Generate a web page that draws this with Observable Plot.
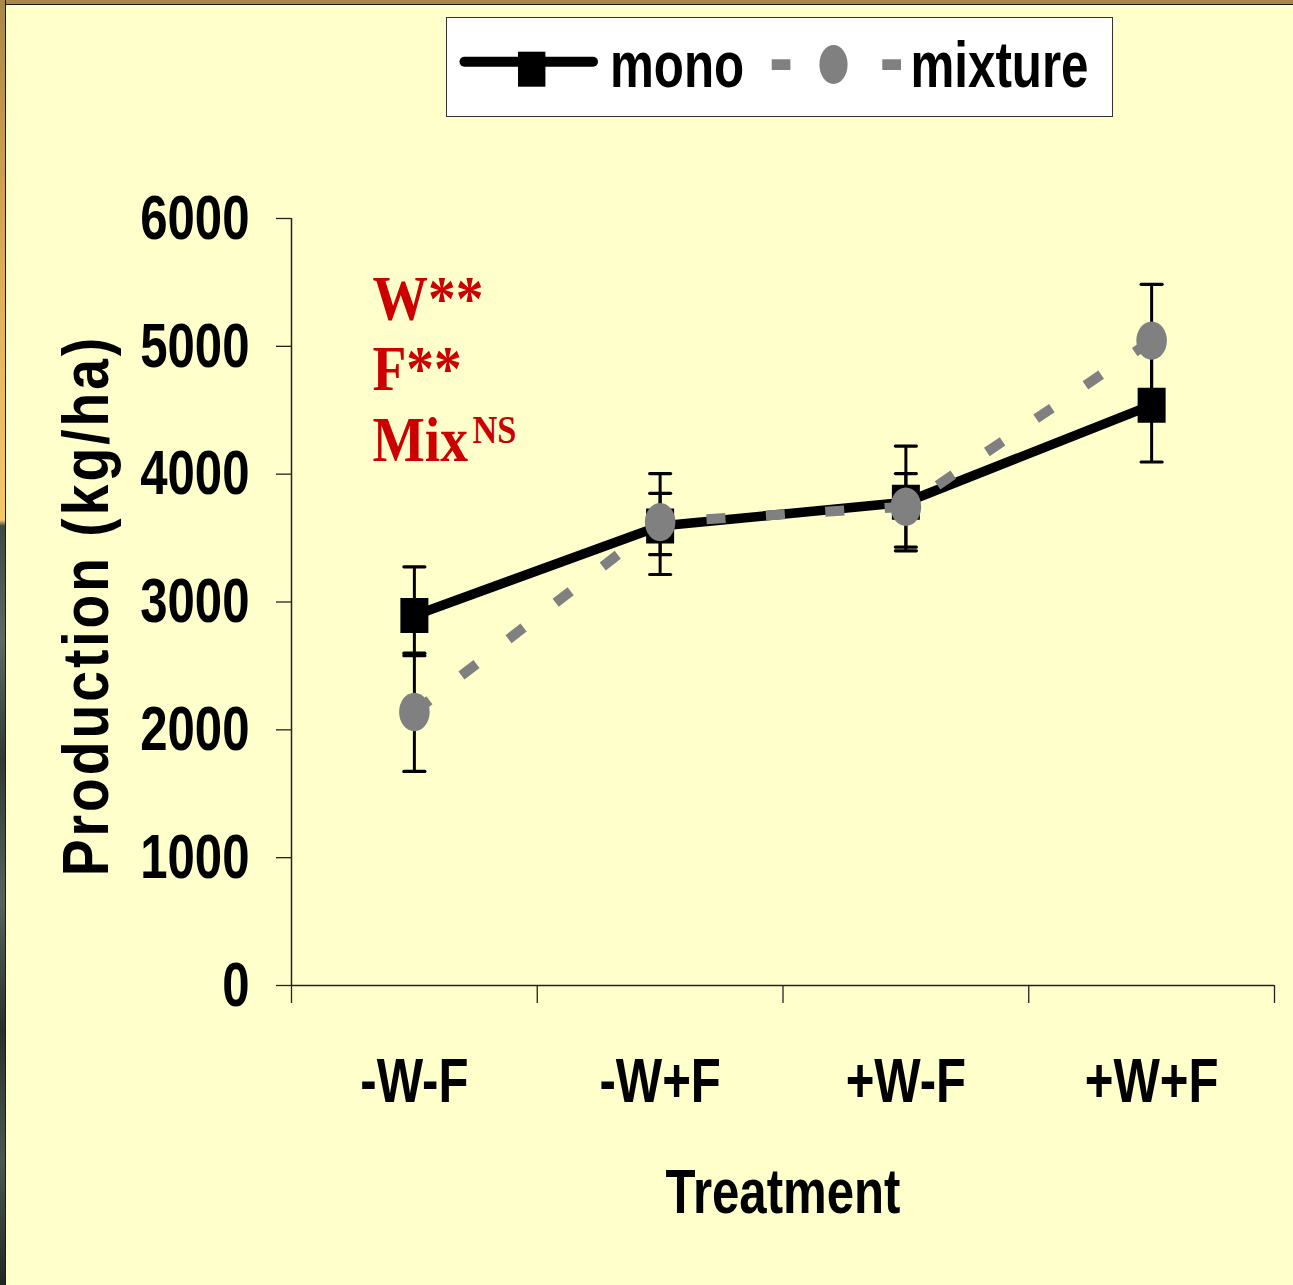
<!DOCTYPE html>
<html>
<head>
<meta charset="utf-8">
<script src="https://cdn.jsdelivr.net/npm/d3@7"></script>
<script src="https://cdn.jsdelivr.net/npm/@observablehq/plot@0.6"></script>
<style>
  html, body { margin: 0; padding: 0; background: #FFFFCC; overflow: hidden; }
  #page { position: relative; width: 1293px; height: 1285px; }
  /* slide frame: brown strip on top, warm-to-dark strip on the left */
  .edge-top { position: absolute; left: 0; top: 0; width: 1293px; height: 4px;
    background: #A8874A; border-bottom: 1.5px solid #1c1a12; z-index: 5; }
  .edge-left { position: absolute; left: 0; top: 0; width: 5px; height: 1285px; z-index: 5;
    border-right: 1.5px solid #1c1a12;
    background: linear-gradient(to bottom, #A8874A 0px, #C99B50 150px, #E5B35E 320px, #F6C86A 520px,
      #3c4a40 526px, #5d6b61 640px, #2e3a33 760px, #56645a 900px, #26312b 1030px, #4a584e 1160px, #1f2924 1285px); }
  #legend-row { position: relative; height: 117px; }
  #legend { position: absolute; left: 446px; top: 17px; width: 667px; height: 100px;
    box-sizing: border-box; background: #ffffff; border: 1.5px solid #333; }
  #legend svg { display: block; }
  #chart svg { display: block; }
</style>
</head>
<body>
<div id="page">
  <div class="edge-top"></div>
  <div class="edge-left"></div>
  <div id="legend-row"><div id="legend"></div></div>
  <div id="chart"></div>
</div>
<script>
// Treatments on the x axis
const categories = ["-W-F", "-W+F", "+W-F", "+W+F"];
// Monoculture production (kg/ha): mean and error-bar limits
const monoMean = [2895, 3595, 3780, 4540];
const monoLow = [2580, 3215, 3400, 4095];
const monoHigh = [3275, 4005, 4220, 4985];
// Mixture production (kg/ha): mean and error-bar limits
const mixMean = [2140, 3625, 3745, 5045];
const mixLow = [1675, 3370, 3430, 4610];
const mixHigh = [2600, 3850, 4005, 5485];
// Axis ticks and texts
const yTicks = [0, 1000, 2000, 3000, 4000, 5000, 6000];
const seriesNames = ["mono", "mixture"];
const yLabel = "Production (kg/ha)";
const xLabel = "Treatment";
// ANOVA significance notes
const effects = ["W**", "F**", "Mix"];
const mixSuperscript = "NS";

const sans = "'Liberation Sans', Arial, Helvetica, sans-serif";
const serif = "'Liberation Serif', 'Times New Roman', Times, serif";
const red = "#CC0000";
const gray = "#808080";

const rows = (mean, low, high) =>
  categories.map((c, i) => ({i, category: c, mean: mean[i], low: low[i], high: high[i]}));
const mono = rows(monoMean, monoLow, monoHigh);
const mix = rows(mixMean, mixLow, mixHigh);
const all = [...mono, ...mix];
const caps = all.flatMap(d => [{i: d.i, v: d.low}, {i: d.i, v: d.high}]);

// band edges and centres on an index axis
const centers = d3.range(categories.length);
const edges = d3.range(categories.length + 1).map(k => k - 0.5);

// marker shapes
const rectSymbol = {draw(ctx) { const w = 14, h = 17.5; ctx.moveTo(-w, -h); ctx.lineTo(w, -h); ctx.lineTo(w, h); ctx.lineTo(-w, h); ctx.closePath(); }};
const ellipseSymbol = {draw(ctx) {
  const rx = 15.3, ry = 19.2, k = 0.5523, kx = rx * k, ky = ry * k;
  ctx.moveTo(rx, 0);
  ctx.bezierCurveTo(rx, ky, kx, ry, 0, ry);
  ctx.bezierCurveTo(-kx, ry, -rx, ky, -rx, 0);
  ctx.bezierCurveTo(-rx, -ky, -kx, -ry, 0, -ry);
  ctx.bezierCurveTo(kx, -ry, rx, -ky, rx, 0);
  ctx.closePath();
}};
const capSymbol = {draw(ctx) { ctx.moveTo(-10.5, 0); ctx.lineTo(10.5, 0); }};

const bigText = {fontSize: 63, fontWeight: "bold", fontFamily: sans, fill: "black"};
const noteText = {fontWeight: "bold", fontFamily: serif, fill: red, frameAnchor: "top-left", textAnchor: "start", lineAnchor: "middle"};

const svg = Plot.plot({
  width: 1293,
  height: 1168,
  marginTop: 101,
  marginRight: 19,
  marginBottom: 300,
  marginLeft: 291,
  style: {background: "#FFFFCC", color: "black", overflow: "visible"},
  x: {domain: [edges[0], edges[edges.length - 1]]},
  y: {domain: [yTicks[0], yTicks[yTicks.length - 1]]},
  marks: [
    // axes
    Plot.axisY(yTicks, {tickSize: 15, tickPadding: 27, tickFormat: d => String(d), label: null,
      stroke: "#222", strokeWidth: 1.3, ...bigText}),
    Plot.axisX(edges, {tickSize: 18, tickFormat: () => "", label: null, stroke: "#222", strokeWidth: 1.3}),
    Plot.axisX(centers, {tickSize: 0, tickPadding: 72, tickFormat: i => categories[i], label: null, ...bigText}),
    Plot.ruleX([edges[0]], {y1: yTicks[0], y2: yTicks[yTicks.length - 1], stroke: "#222", strokeWidth: 1.5}),
    Plot.ruleY([0], {stroke: "#222", strokeWidth: 1.5}),
    Plot.text([xLabel], {frameAnchor: "bottom", lineAnchor: "top", dy: 183, ...bigText}),
    Plot.text([yLabel], {frameAnchor: "left", textAnchor: "middle", rotate: -90, lineAnchor: "middle",
      dx: -204.5, dy: 3.5, ...bigText, fontSize: 65}),
    // significance notes
    Plot.text([effects[0]], {...noteText, fontSize: 63, dx: 81, dy: 81}),
    Plot.text([effects[1]], {...noteText, fontSize: 63, dx: 81, dy: 151.5}),
    Plot.text([effects[2]], {...noteText, fontSize: 63, dx: 81, dy: 222}),
    Plot.text([mixSuperscript], {...noteText, fontSize: 39, dx: 181, dy: 212}),
    // error bars
    Plot.ruleX(all, {x: "i", y1: "low", y2: "high", stroke: "black", strokeWidth: 3}),
    Plot.dot(caps, {x: "i", y: "v", symbol: capSymbol, stroke: "black", strokeWidth: 3.2, strokeLinecap: "round", fill: "none"}),
    // mono series
    Plot.line(mono, {x: "i", y: "mean", stroke: "black", strokeWidth: 9.5, strokeLinejoin: "round"}),
    Plot.dot(mono, {x: "i", y: "mean", symbol: rectSymbol, fill: "black"}),
    // mixture series
    Plot.line(mix, {x: "i", y: "mean", stroke: gray, strokeWidth: 10, strokeDasharray: "19,40.5",
      strokeLinecap: "butt", strokeLinejoin: "miter"}),
    Plot.dot(mix, {x: "i", y: "mean", symbol: ellipseSymbol, fill: gray})
  ]
});
document.getElementById("chart").append(svg);

// narrow the glyphs horizontally, keeping each label's anchor in place;
// the rotated axis title gets narrower glyphs with wider tracking
svg.querySelectorAll("text").forEach(t => {
  const ff = getComputedStyle(t).fontFamily;
  const tr = t.getAttribute("transform") || "";
  const rotated = tr.includes("rotate");
  const s = ff.includes("Serif") ? 0.88 : rotated ? 0.85 : 0.78;
  t.setAttribute("transform", `${tr} scale(${s},1)`);
  if (rotated) t.setAttribute("letter-spacing", 3.5);
});

// legend
const lg = d3.select("#legend").append("svg").attr("width", 664).attr("height", 97);
lg.append("line").attr("x1", 17.5).attr("x2", 146).attr("y1", 43.7).attr("y2", 43.7)
  .attr("stroke", "black").attr("stroke-width", 10).attr("stroke-linecap", "round");
lg.append("rect").attr("x", 71).attr("y", 33.7).attr("width", 27.4).attr("height", 35).attr("fill", "black");
lg.append("rect").attr("x", 324.7).attr("y", 41.3).attr("width", 18.7).attr("height", 10.7).attr("fill", gray);
lg.append("ellipse").attr("cx", 386.5).attr("cy", 46.5).attr("rx", 14.1).attr("ry", 19.5).attr("fill", gray);
lg.append("rect").attr("x", 435.3).attr("y", 41.3).attr("width", 18.7).attr("height", 10.7).attr("fill", gray);
[[seriesNames[0], 163], [seriesNames[1], 463.5]].forEach(([name, x]) => {
  lg.append("text").text(name)
    .attr("transform", `translate(${x},69.3) scale(0.77,1)`)
    .attr("font-family", sans).attr("font-weight", "bold").attr("font-size", 64).attr("fill", "black");
});
</script>
</body>
</html>
